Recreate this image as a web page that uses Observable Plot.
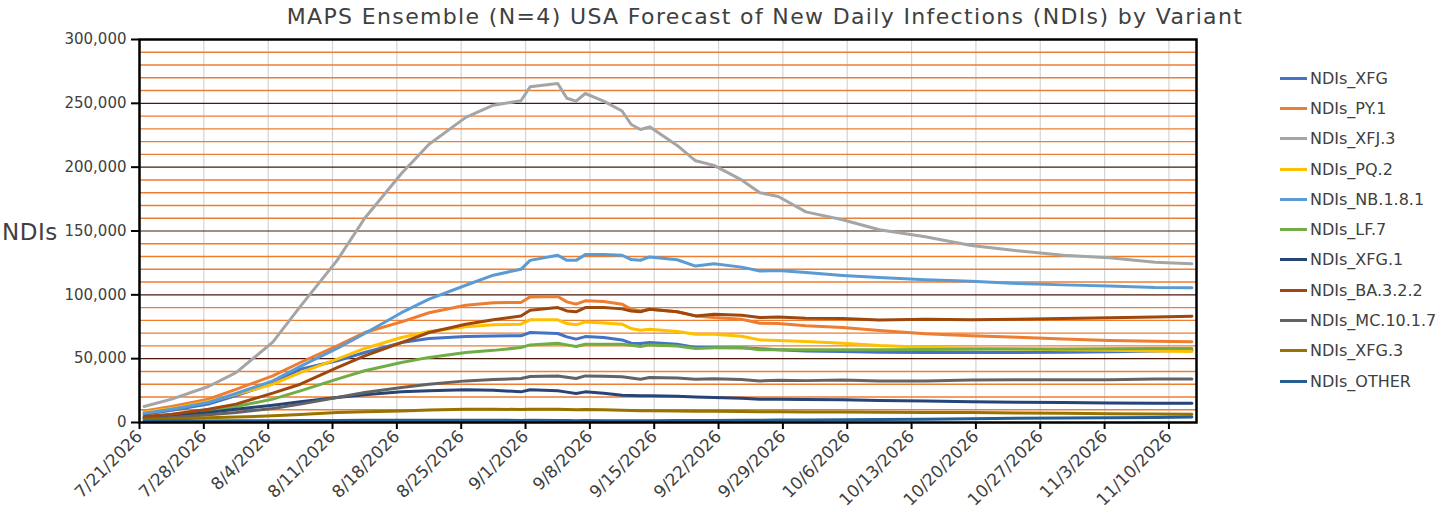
<!DOCTYPE html>
<html><head><meta charset="utf-8">
<script src="https://cdn.jsdelivr.net/npm/d3@7"></script>
<script src="https://cdn.jsdelivr.net/npm/@observablehq/plot@0.6"></script>
<style>
body{margin:0;background:#fff;font-family:"DejaVu Sans",sans-serif;}
#wrap{position:relative;width:1456px;height:517px;overflow:hidden;background:#fff;}
#title{position:absolute;left:0;width:1530px;top:2px;line-height:30px;text-align:center;font-size:22px;letter-spacing:1.35px;color:#404040;white-space:nowrap;}
#chart{position:absolute;left:0;top:30px;}
#ylab{position:absolute;left:2px;top:218px;font-size:23px;letter-spacing:0.5px;color:#404040;line-height:28px;}
#legend{position:absolute;left:1280px;top:63px;}
.item{height:30.3px;display:flex;align-items:center;font-size:16px;color:#404040;white-space:nowrap;}
.sw{width:27px;height:3px;margin-right:3px;}
</style></head>
<body>
<div id="wrap">
  <div id="title">MAPS Ensemble (N=4) USA Forecast of New Daily Infections (NDIs) by Variant</div>
  <div id="chart"></div>
  <div id="ylab">NDIs</div>
  <div id="legend"></div>
</div>
<script>
// sampled report dates
const dates = ["2026-07-21","2026-07-24","2026-07-28","2026-07-31","2026-08-04","2026-08-07","2026-08-11","2026-08-14","2026-08-18","2026-08-21","2026-08-25","2026-08-28","2026-08-31","2026-09-01","2026-09-04","2026-09-05","2026-09-06","2026-09-07","2026-09-09","2026-09-11","2026-09-12","2026-09-13","2026-09-14","2026-09-17","2026-09-19","2026-09-21","2026-09-24","2026-09-26","2026-09-28","2026-10-01","2026-10-05","2026-10-09","2026-10-14","2026-10-19","2026-10-24","2026-10-29","2026-11-03","2026-11-08","2026-11-12"];

const NDIs_XFG      = [6500,9500,14400,21000,30800,41800,48300,54800,62600,65800,67300,67800,67900,70500,69700,67100,65300,67300,66500,64700,62100,61900,62600,61300,58700,58700,58500,57800,57000,56000,55600,55000,54800,54800,54800,55000,55500,56000,56500];
const NDIs_PY1      = [9000,12500,18300,26000,36500,47000,60000,70500,78800,86000,91900,93800,94000,98400,98700,94500,92700,95300,94700,92700,88700,87400,88700,86700,83500,82200,80900,77800,77500,75700,74400,72000,69500,68000,66800,65500,64300,63600,63200];
const NDIs_XFJ3     = [12500,18300,28200,39000,63000,91000,127000,160000,195000,218000,239000,248500,252000,263000,265500,254000,251700,257700,251700,244000,233400,229500,231600,217000,205000,201400,190000,180000,177000,165000,158800,151000,145500,138700,134500,131000,129000,125600,124300];
const NDIs_PQ2      = [8000,11000,16500,22000,30000,39000,49600,58000,66600,71300,75000,76500,77000,80400,80400,77500,76500,78800,78000,77000,73600,72300,73100,71300,69200,69200,67500,64700,64300,63500,62000,60300,59000,58200,57500,57000,56500,56000,55600];
const NDIs_NB181    = [7300,10400,15700,22700,32600,44000,58000,69700,86000,96600,107500,115400,120000,127000,131000,127000,127000,131500,131500,131000,127600,127100,129700,127500,122500,124300,121700,118600,119000,117500,115200,113500,111800,110700,108900,107800,107000,105800,105600];
const NDIs_LF7      = [4000,5500,8400,12500,18300,24800,34000,40500,47000,51000,54800,56500,58700,60800,62100,60800,59500,61300,61300,61300,60500,59500,60800,60000,58000,58500,58700,57000,57000,57000,57000,57000,57200,57300,57500,57500,57700,58000,58000];
const NDIs_XFG1     = [3500,5000,7800,10400,13600,16200,19600,21700,24000,24800,25600,25300,24000,25600,24800,23800,22700,24000,23000,21400,21200,21000,20900,20500,20000,19600,19000,18300,18200,18000,17800,17300,16800,16200,15900,15600,15200,15100,15100];
const NDIs_BA322    = [4700,6500,10400,14400,23000,30000,43000,52200,62600,70500,77000,80500,83500,88000,90000,87400,86700,90000,90000,89000,87400,86700,88700,86700,83500,84800,84000,82200,82700,81700,81400,80300,80900,80500,80900,81400,82000,82700,83300];
const NDIs_MC10117  = [2800,4000,6000,7800,11000,14400,19600,23500,27400,30000,32600,33600,34500,36000,36500,35500,34500,36500,36200,35800,34800,33900,35200,34800,33900,34200,33600,32600,33000,32800,33200,32600,32600,33200,33400,33400,33400,34000,34000];
const NDIs_XFG3     = [2000,2800,3700,4300,5200,6300,7800,8500,9100,9800,10400,10400,10200,10400,10400,10100,9900,10100,10000,9600,9400,9200,9300,9100,8900,8800,8600,8500,8400,8300,8200,8000,7900,7800,7500,7200,6800,6600,6500];
const NDIs_OTHER    = [1000,1100,1200,1300,1400,1500,1600,1700,1800,1800,1800,1800,1600,1700,1600,1500,1400,1500,1400,1300,1300,1300,1400,1500,1500,1600,1700,1800,1900,2000,2100,2300,2600,3000,3300,3500,3700,4000,4300];

const seriesNames = ["NDIs_XFG","NDIs_PY.1","NDIs_XFJ.3","NDIs_PQ.2","NDIs_NB.1.8.1","NDIs_LF.7","NDIs_XFG.1","NDIs_BA.3.2.2","NDIs_MC.10.1.7","NDIs_XFG.3","NDIs_OTHER"];
const seriesValues = [NDIs_XFG,NDIs_PY1,NDIs_XFJ3,NDIs_PQ2,NDIs_NB181,NDIs_LF7,NDIs_XFG1,NDIs_BA322,NDIs_MC10117,NDIs_XFG3,NDIs_OTHER];
const colors = ["#4472C4","#ED7D31","#A5A5A5","#FFC000","#5B9BD5","#70AD47","#264478","#9E480E","#636363","#997300","#255E91"];

// axis ticks
const xTickLabels = ["7/21/2026","7/28/2026","8/4/2026","8/11/2026","8/18/2026","8/25/2026","9/1/2026","9/8/2026","9/15/2026","9/22/2026","9/29/2026","10/6/2026","10/13/2026","10/20/2026","10/27/2026","11/3/2026","11/10/2026"];
const yTicks = [0,50000,100000,150000,200000,250000,300000];
const yMinor = [10000,20000,30000,40000,60000,70000,80000,90000,110000,120000,130000,140000,160000,170000,180000,190000,210000,220000,230000,240000,260000,270000,280000,290000];
const xStart = "2026-07-21", xEnd = "2026-11-13";

const parseTick = s => { const [m,d,y] = s.split("/").map(Number); return new Date(Date.UTC(y, m-1, d)); };
const xTicks = xTickLabels.map(parseTick);
const fmtTick = d => `${d.getUTCMonth()+1}/${d.getUTCDate()}/${d.getUTCFullYear()}`;

const rows = [];
seriesNames.forEach((name, k) => {
  seriesValues[k].forEach((v, i) => {
    // each day centered in its slot (between tick marks)
    rows.push({series: name, date: new Date(dates[i] + "T12:00:00Z"), value: v});
  });
});

const chart = Plot.plot({
  width: 1456, height: 487,
  marginLeft: 139, marginRight: 260, marginTop: 9, marginBottom: 95,
  style: {fontFamily: "DejaVu Sans, sans-serif", fontSize: "15px", color: "#404040", background: "transparent", overflow: "visible"},
  x: {type: "utc", domain: [new Date(xStart + "T00:00:00Z"), new Date(xEnd + "T00:00:00Z")]},
  y: {domain: [0, 300000]},
  color: {domain: seriesNames, range: colors},
  marks: [
    Plot.ruleX(xTicks, {stroke: "#d4d4d4", strokeWidth: 1.2}),
    Plot.ruleY(yMinor, {stroke: "#ED7D31", strokeWidth: 1.4}),
    Plot.ruleY(yTicks, {stroke: "#4a1808", strokeWidth: 1.2}),
    Plot.lineY(rows, {x: "date", y: "value", z: "series", stroke: "series", strokeWidth: 3, strokeLinejoin: "round"}),
    Plot.frame({stroke: "#000", strokeWidth: 2.5}),
    Plot.axisX({ticks: xTicks, tickFormat: fmtTick, tickRotate: -45, tickSize: 7, tickPadding: 4, stroke: "#000", strokeWidth: 2, label: null, fontSize: 17}),
    Plot.axisY({ticks: yTicks, tickFormat: d3.format(","), tickSize: 8, tickPadding: 5, stroke: "#000", strokeWidth: 2, label: null, fontSize: 15})
  ]
});
document.getElementById("chart").appendChild(chart);

const legend = document.getElementById("legend");
seriesNames.forEach((name, k) => {
  const it = document.createElement("div");
  it.className = "item";
  const sw = document.createElement("div");
  sw.className = "sw";
  sw.style.background = colors[k];
  const tx = document.createElement("span");
  tx.textContent = name;
  it.appendChild(sw); it.appendChild(tx);
  legend.appendChild(it);
});
</script>
</body></html>
